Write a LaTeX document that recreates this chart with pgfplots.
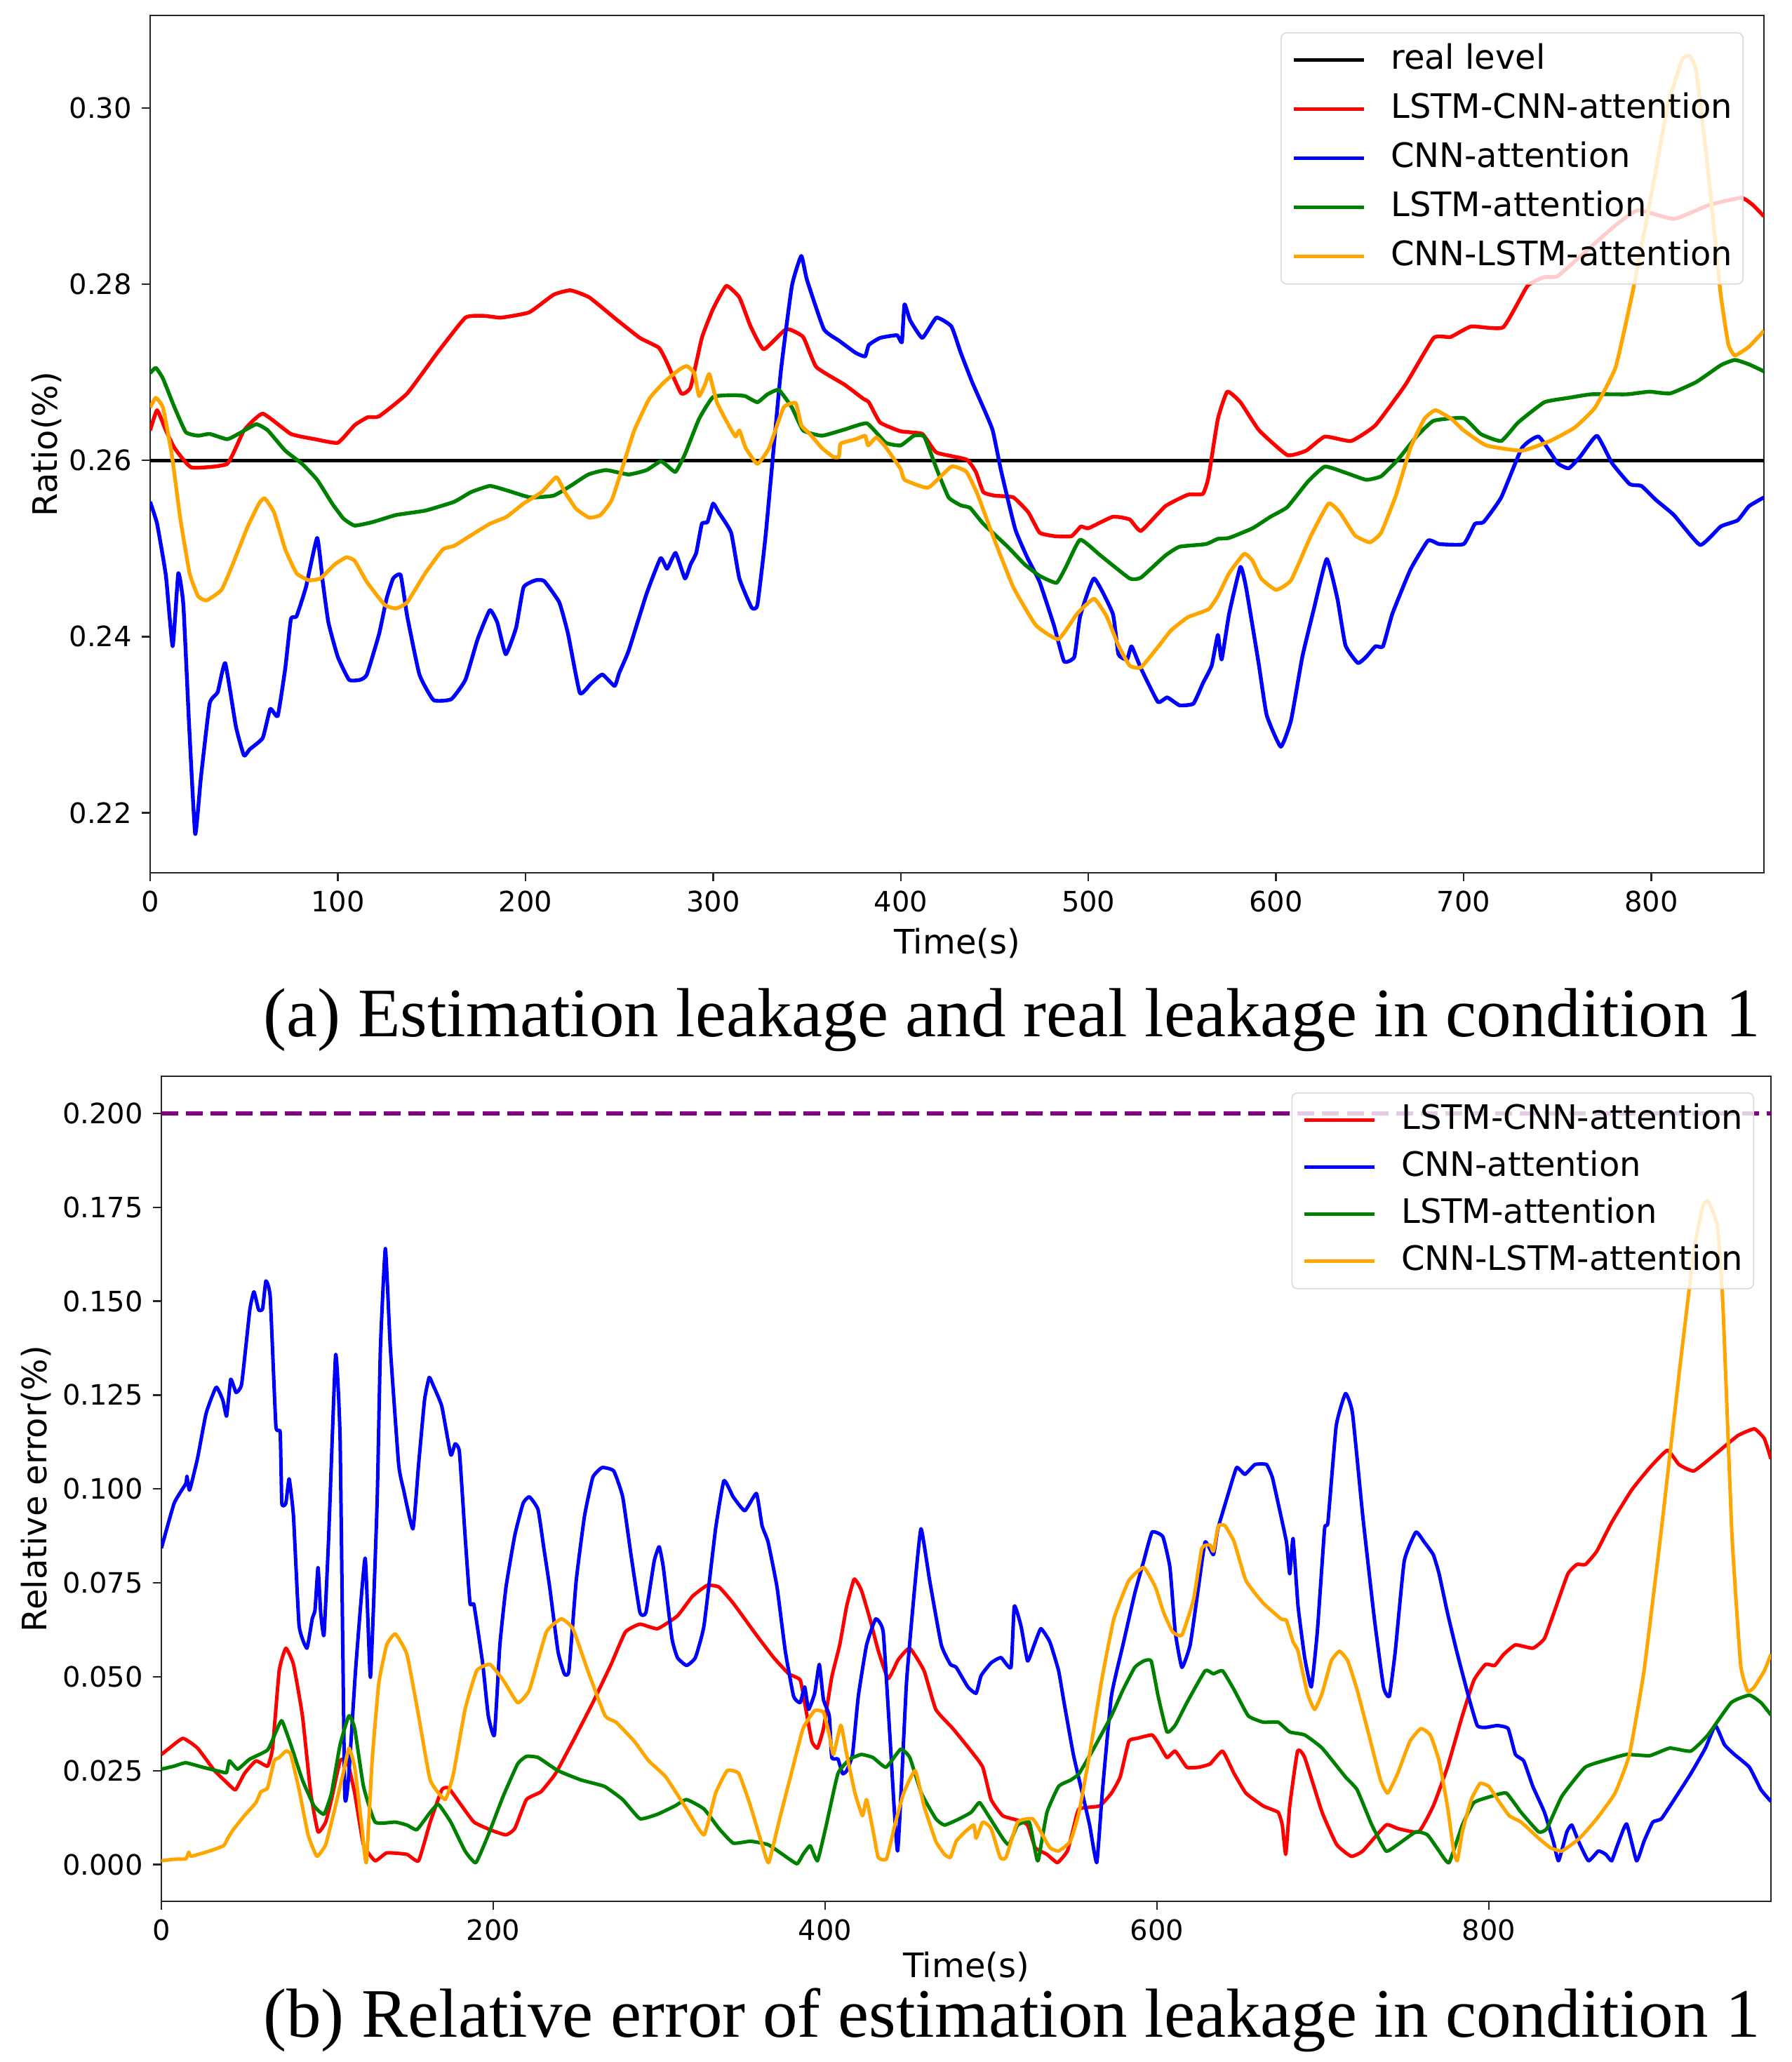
\documentclass[border=0pt]{standalone}
\usepackage{fontspec}
\setmainfont{DejaVu Sans}
\newfontfamily\capfont{Liberation Serif}
\usepackage{pgfplots}
\pgfplotsset{compat=1.18}
\definecolor{mplgreen}{HTML}{008000}
\definecolor{mplorange}{HTML}{FFA500}
\definecolor{mplpurple}{HTML}{800080}
\pgfplotsset{
  common/.style={
    scale only axis, clip=true,
    axis line style={black!85, line width=0.6pt},
    tick style={black!85, line width=0.6pt},
    major tick length=3pt, tick align=outside, tick pos=left,
    ticklabel style={font=\fontsize{10}{12}\selectfont},
    /pgf/number format/assume math mode=true,
    label style={font=\fontsize{12}{14}\selectfont},
    scaled y ticks=false,
    legend cell align=left,
    legend image code/.code={\draw[##1] (0pt,0pt) -- (25pt,0pt); \path (34pt,0pt);},
  },
  dline/.style={line width=1.35pt, line join=round, smooth, tension=0.25},
  eline/.style={line width=1.25pt, line join=round, smooth, tension=0.25},
}
\begin{document}
\begin{tikzpicture}
\path[use as bounding box] (0,0) rectangle (638.5pt,734.75pt);
% ---------------- top axis
\begin{axis}[common,
  at={(53.5pt,423.75pt)}, anchor=south west,
  width=575pt, height=305.5pt,
  xmin=0, xmax=860, ymin=0.2132, ymax=0.3105,
  xtick={0,100,200,300,400,500,600,700,800},
  ytick={0.22,0.24,0.26,0.28,0.30},
  yticklabel style={/pgf/number format/.cd, fixed, fixed zerofill, precision=2},
  xlabel={Time(s)}, ylabel={Ratio(\%)},
  xlabel style={at={(axis description cs:0.5,-0.0818)}, anchor=center},
  ylabel style={at={(axis description cs:-0.0643,0.5)}, anchor=center},
  legend style={at={(1,1)}, anchor=north east, xshift=-7.25pt, yshift=-6pt,
    draw=black!15, rounded corners=2pt, fill=white, fill opacity=0.8, draw opacity=1, text opacity=1,
    font=\fontsize{12}{14}\selectfont, inner xsep=3.75pt, inner ysep=4pt, row sep=6pt,
    nodes={inner sep=0pt, text height=9pt, text depth=2.5pt}},
]
\addplot[black, line width=1.25pt] coordinates {(0,0.26)(860,0.26)};
\addlegendentry{real level}
\addplot[red, dline] coordinates {
(0,0.2634)(3.7,0.2657)(8.4,0.2634)(13,0.2614)(22,0.2592)(41,0.2596)(50,0.2634)(60,0.2653)(75,0.2630)(88,0.2624)(100,0.2620)(109,0.2640)(116,0.2649)(122,0.2650)(137,0.2676)(153,0.2722)(168,0.2762)(178,0.2764)(187,0.2762)(202,0.2768)(215,0.2788)(224,0.2793)(234,0.2785)(249,0.2759)(261,0.2739)(271,0.2728)(275,0.2713)(283,0.2676)(288,0.2683)(294,0.2739)(300,0.2772)(307,0.2798)(314,0.2785)(320,0.2752)(327,0.2726)(339,0.2749)(348,0.2740)(355,0.2706)(370,0.2686)(380,0.2670)(383,0.2666)(389,0.2643)(400,0.2633)(411.5,0.2630)(419,0.2609)(435,0.2601)(440,0.2587)(444,0.2564)(450,0.2560)(460,0.2558)(468,0.2541)(474,0.2518)(482,0.2514)(491,0.2514)(496,0.2525)(500,0.2523)(513,0.2536)(522,0.2533)(528,0.2520)(541,0.2548)(553,0.2561)(561,0.2562)(564,0.2581)(569,0.2647)(574,0.2678)(581,0.2666)(591,0.2634)(606,0.2606)(616,0.2611)(626,0.2627)(640,0.2622)(653,0.2640)(669,0.2686)(684,0.2739)(693,0.2740)(704,0.2752)(721,0.2751)(734,0.2798)(743,0.2808)(750,0.2809)(765,0.2837)(781,0.2867)(793,0.2884)(812,0.2874)(831,0.2890)(848,0.2898)(854,0.2890)(860,0.2877)};
\addlegendentry{LSTM-CNN-attention}
\addplot[blue, dline] coordinates {
(0,0.2553)(3.7,0.2528)(8.4,0.2469)(12,0.2389)(15,0.2472)(17.7,0.2436)(20.8,0.2298)(24,0.2176)(27,0.2239)(31.7,0.2324)(36,0.2337)(40,0.2370)(45.7,0.2298)(50,0.2265)(53,0.2272)(60,0.2285)(64,0.2318)(68,0.2310)(72,0.2364)(75,0.2420)(78,0.2423)(83,0.2456)(89,0.2512)(92,0.2462)(95,0.2416)(100,0.2377)(106,0.2351)(112,0.2351)(115.5,0.2357)(122,0.2403)(126,0.2443)(129.5,0.2466)(133.5,0.2470)(137,0.2423)(143.5,0.2357)(151,0.2328)(160.5,0.2329)(168,0.2351)(174.5,0.2397)(181,0.2430)(185,0.2416)(189.5,0.2380)(195,0.2410)(199,0.2456)(205.5,0.2464)(210,0.2463)(218,0.2439)(222.7,0.2403)(229,0.2336)(235,0.2347)(241,0.2357)(247.5,0.2344)(250,0.2359)(255,0.2384)(264.6,0.2449)(272,0.2489)(275.5,0.2477)(280,0.2495)(285,0.2466)(288,0.2482)(291,0.2495)(294,0.2528)(297,0.2530)(300,0.2551)(303,0.2541)(309.6,0.2518)(314,0.2466)(320.5,0.2433)(323.6,0.2436)(328,0.2515)(336,0.2699)(342,0.2798)(347,0.2832)(350,0.2805)(359,0.2749)(367,0.2736)(376,0.2722)(381,0.2718)(383,0.2731)(389,0.2739)(398,0.2742)(400.6,0.2734)(402,0.2777)(405,0.2759)(411.5,0.2739)(419,0.2762)(427,0.2752)(432,0.2722)(438,0.2689)(444,0.2660)(449,0.2634)(453.6,0.2587)(461,0.2522)(467.6,0.2489)(474,0.2462)(481.6,0.2413)(487,0.2372)(492.5,0.2377)(495.6,0.2423)(503,0.2466)(513,0.2426)(516,0.2380)(520.6,0.2374)(523,0.2389)(528,0.2364)(537,0.2326)(542,0.2331)(548.6,0.2322)(556,0.2324)(561,0.2347)(565.7,0.2367)(569,0.2402)(571,0.2374)(575,0.2426)(581,0.2479)(584,0.2456)(590.7,0.2370)(595,0.2311)(602.5,0.2275)(608,0.2305)(614,0.2377)(620,0.2430)(627,0.2488)(632.7,0.2443)(637,0.2390)(643.6,0.2370)(648,0.2377)(653,0.2389)(657,0.2389)(662,0.2426)(671.6,0.2476)(681,0.2509)(687,0.2505)(700,0.2505)(706,0.2528)(710.6,0.2530)(720,0.2558)(731,0.2614)(740,0.2627)(750,0.2597)(756,0.2591)(762,0.2604)(771,0.2628)(779,0.2597)(788.5,0.2573)(794.7,0.2571)(802.5,0.2555)(812,0.2538)(826,0.2504)(837,0.2525)(846,0.2532)(852,0.2548)(860,0.2558)};
\addlegendentry{CNN-attention}
\addplot[mplgreen, dline] coordinates {
(0,0.2699)(3,0.2705)(6.8,0.2693)(13,0.2660)(19,0.2632)(25.5,0.2628)(31.7,0.2630)(41,0.2624)(47,0.2630)(56.5,0.2641)(62.7,0.2634)(72,0.2611)(81,0.2596)(89,0.2578)(97,0.2551)(103,0.2534)(109,0.2526)(118.6,0.2530)(131,0.2538)(146.6,0.2543)(162,0.2553)(171,0.2564)(181,0.2571)(190,0.2566)(202.5,0.2558)(215,0.2560)(224,0.2571)(233.5,0.2584)(243,0.2589)(255,0.2584)(264.6,0.2589)(272,0.2599)(275.5,0.2594)(280,0.2587)(285,0.2607)(292.5,0.2647)(300,0.2672)(311,0.2674)(317,0.2673)(323.6,0.2666)(329,0.2675)(335,0.2680)(342,0.2660)(348,0.2634)(358,0.2628)(370,0.2635)(382,0.2642)(392,0.2620)(400,0.2617)(407,0.2628)(412.5,0.2627)(419,0.2591)(425.5,0.2558)(432,0.2549)(437,0.2546)(444,0.2528)(457,0.2502)(466,0.2482)(474,0.2469)(483,0.2461)(488,0.2479)(495.6,0.2510)(506.5,0.2492)(522,0.2466)(528,0.2467)(541,0.2492)(548.6,0.2502)(562.6,0.2505)(569,0.2511)(575,0.2512)(587.5,0.2523)(597,0.2536)(606,0.2547)(617,0.2576)(626,0.2593)(637,0.2586)(648,0.2578)(656,0.2582)(665,0.2601)(674.8,0.2627)(684,0.2645)(700,0.2648)(709,0.2630)(720,0.2622)(729,0.2643)(743,0.2666)(756,0.2671)(768,0.2675)(787,0.2675)(799,0.2678)(810,0.2676)(824,0.2689)(837,0.2708)(844.5,0.2714)(852,0.2709)(860,0.2701)};
\addlegendentry{LSTM-attention}
\addplot[mplorange, dline] coordinates {
(0,0.2660)(3,0.2671)(6.8,0.2660)(11.5,0.2607)(16,0.2535)(21,0.2472)(25.5,0.2446)(30,0.2441)(38,0.2453)(44,0.2482)(52,0.2525)(58,0.2551)(61,0.2557)(66,0.2541)(72,0.2499)(78,0.2472)(84.5,0.2464)(90.7,0.2466)(98.4,0.2482)(104.6,0.2490)(109,0.2486)(115.5,0.2462)(125,0.2436)(131,0.2432)(137,0.2439)(146.6,0.2472)(156,0.2499)(162,0.2503)(171,0.2515)(181,0.2528)(190,0.2536)(199,0.2551)(208.7,0.2564)(216.5,0.2581)(221,0.2564)(227,0.2545)(234,0.2535)(240,0.2538)(246,0.2555)(252,0.2594)(258,0.2634)(266,0.2670)(274,0.2689)(282,0.2703)(286,0.2707)(290,0.2699)(292.5,0.2673)(295.7,0.2686)(298,0.2698)(302,0.2666)(308,0.2641)(312,0.2627)(314,0.2634)(317.4,0.2614)(323.6,0.2596)(329.8,0.2614)(337.6,0.2660)(344,0.2665)(347,0.2640)(351.5,0.2630)(358,0.2614)(364,0.2604)(367,0.2604)(368,0.2619)(376,0.2624)(381,0.2628)(382.6,0.2617)(387,0.2626)(392,0.2615)(400,0.2590)(402,0.2578)(414.6,0.2569)(427,0.2593)(435,0.2587)(441,0.2561)(449,0.2515)(460,0.2456)(472,0.2413)(484,0.2397)(494,0.2426)(503,0.2443)(509.7,0.2423)(516,0.2390)(522,0.2367)(528,0.2365)(537.7,0.2390)(544,0.2407)(553,0.2422)(564,0.2431)(569,0.2446)(575,0.2472)(583,0.2494)(587.5,0.2486)(592,0.2466)(600,0.2453)(608,0.2464)(618.7,0.2515)(628,0.2551)(634,0.2541)(642,0.2515)(650,0.2507)(656,0.2518)(664,0.2561)(671.6,0.2614)(679,0.2647)(685,0.2657)(693.5,0.2647)(700,0.2634)(712,0.2617)(731,0.2611)(746,0.2622)(759,0.2637)(770,0.2660)(781,0.2706)(790,0.2791)(799.6,0.2897)(808.7,0.3002)(816.5,0.3055)(820.5,0.3059)(824,0.3041)(830.5,0.2923)(836.8,0.2791)(841,0.2732)(844.5,0.2719)(852,0.2729)(860,0.2747)};
\addlegendentry{CNN-LSTM-attention}
\end{axis}
% ---------------- bottom axis
\begin{axis}[common,
  at={(57.5pt,57.25pt)}, anchor=south west,
  width=573.5pt, height=294pt,
  xmin=0, xmax=970, ymin=-0.0098, ymax=0.2099,
  xtick={0,200,400,600,800},
  ytick={0,0.025,0.05,0.075,0.1,0.125,0.15,0.175,0.2},
  yticklabel style={/pgf/number format/.cd, fixed, fixed zerofill, precision=3},
  xlabel={Time(s)}, ylabel={Relative error(\%)},
  xlabel style={at={(axis description cs:0.5,-0.0791)}, anchor=center},
  ylabel style={at={(axis description cs:-0.078,0.5)}, anchor=center},
  legend style={at={(1,1)}, anchor=north east, xshift=-6pt, yshift=-5.75pt,
    draw=black!15, rounded corners=2pt, fill=white, fill opacity=0.8, draw opacity=1, text opacity=1,
    font=\fontsize{12}{14}\selectfont, inner xsep=3.75pt, inner ysep=4pt, row sep=5.25pt,
    nodes={inner sep=0pt, text height=9pt, text depth=2.5pt}},
]
\addplot[mplpurple, line width=1.3pt, dash pattern=on 6pt off 2.8pt, forget plot] coordinates {(0,0.2)(970,0.2)};
\addplot[red, eline] coordinates {
(0,0.0293)(4,0.0307)(13,0.0336)(21.8,0.0310)(32,0.0250)(39,0.0220)(44.6,0.0199)(50,0.0242)(57,0.0276)(64,0.0262)(67,0.0310)(71,0.0516)(75,0.0576)(79.6,0.0533)(85,0.0396)(90,0.0190)(94.4,0.0087)(99,0.0113)(102.5,0.0173)(107.7,0.0276)(112,0.0276)(116.5,0.0190)(121.8,0.0053)(128.8,0.0010)(135.8,0.0031)(148,0.0027)(155,0.0010)(162,0.0113)(169,0.0199)(173,0.0204)(179.6,0.0165)(188.4,0.0113)(199,0.0091)(207.7,0.0079)(213,0.0096)(220,0.0173)(228.8,0.0194)(237.5,0.0242)(248,0.0328)(260,0.0431)(271,0.0533)(279.6,0.0619)(288.4,0.0640)(299,0.0628)(311,0.0662)(320,0.0714)(328.8,0.0743)(336,0.0739)(344.6,0.0696)(358.6,0.0611)(369,0.0551)(378,0.0508)(385,0.0491)(388.4,0.0413)(392,0.0328)(395.4,0.0310)(399,0.0362)(404,0.0499)(408.8,0.0585)(413,0.0688)(417.5,0.0760)(421.8,0.0731)(427,0.0654)(432,0.0570)(438,0.0495)(444,0.0545)(451,0.0576)(459.6,0.0516)(466.7,0.0413)(477,0.0362)(488,0.0302)(495,0.0259)(500,0.0173)(507,0.0130)(516,0.0118)(522,0.0105)(526.6,0.0045)(533.7,0.0027)(540,0.0005)(546,0.0036)(549.6,0.0096)(553,0.0148)(565.4,0.0156)(572.5,0.0190)(577.8,0.0233)(583,0.0328)(588,0.0336)(597,0.0345)(600.7,0.0324)(606,0.0285)(611,0.0302)(618,0.0259)(625,0.0259)(632,0.0268)(639.5,0.0302)(646.5,0.0242)(653.6,0.0190)(664,0.0156)(673,0.0139)(675.5,0.0105)(677.6,0.0027)(680,0.0156)(684.7,0.0302)(689,0.0285)(699.5,0.0139)(708.3,0.0053)(717,0.0022)(724,0.0036)(738,0.0105)(745,0.0096)(757.7,0.0087)(766.5,0.0156)(775,0.0259)(784,0.0396)(791,0.0491)(798,0.0533)(803.5,0.0530)(808.8,0.0559)(816,0.0585)(826.5,0.0576)(833.5,0.0602)(840.6,0.0688)(847.6,0.0774)(853,0.0799)(858.2,0.0799)(865,0.0834)(874,0.0911)(886,0.0997)(897,0.1057)(907.6,0.1103)(914.6,0.1065)(923.5,0.1048)(936,0.1091)(950,0.1142)(960,0.1160)(966,0.1134)(970,0.1080)};
\addlegendentry{LSTM-CNN-attention}
\addplot[blue, eline] coordinates {
(0,0.0842)(7.7,0.0962)(14.7,0.1014)(15.4,0.1034)(17,0.0997)(21.8,0.1082)(27,0.1202)(33,0.1271)(37,0.1237)(39.3,0.1194)(41.8,0.1292)(45,0.1257)(48.4,0.1280)(53.3,0.1477)(55.8,0.1525)(58.6,0.1477)(61,0.1480)(63,0.1554)(65.6,0.1511)(69,0.1168)(71.6,0.1151)(72.6,0.0962)(75,0.0962)(77,0.1027)(79.6,0.0928)(83,0.0636)(87.7,0.0576)(90.9,0.0654)(92.6,0.0678)(94.4,0.0791)(96,0.0671)(98,0.0611)(100.7,0.0859)(105,0.1357)(107.7,0.1134)(110.5,0.0190)(113,0.0242)(117,0.0516)(122.8,0.0816)(126,0.0499)(130,0.0962)(132,0.1374)(135,0.1640)(138,0.1374)(143,0.1065)(146,0.0997)(151.6,0.0894)(155,0.1065)(158.6,0.1237)(161.4,0.1297)(164,0.1274)(169,0.1220)(174.4,0.1091)(177,0.1120)(179.6,0.1099)(183,0.0877)(186,0.0696)(188.4,0.0691)(193.7,0.0533)(197,0.0396)(200.7,0.0345)(204,0.0585)(207.7,0.0739)(213,0.0877)(218,0.0962)(221.8,0.0979)(227,0.0945)(230.5,0.0842)(234,0.0739)(239,0.0568)(242.8,0.0508)(245.6,0.0516)(250,0.0756)(255,0.0928)(260,0.1031)(265.6,0.1057)(272.6,0.1048)(278,0.0979)(283,0.0825)(288.4,0.0671)(292,0.0671)(297,0.0808)(300,0.0846)(302.5,0.0791)(307.7,0.0602)(311,0.0551)(316.5,0.0530)(321.8,0.0551)(327,0.0636)(334,0.0894)(339,0.1022)(344.6,0.0979)(351.6,0.0942)(358.6,0.0988)(362,0.0902)(365.6,0.0859)(371,0.0739)(376,0.0568)(381,0.0448)(385,0.0431)(387.7,0.0473)(390,0.0413)(393.7,0.0456)(396.5,0.0533)(399,0.0439)(402.5,0.0396)(404,0.0285)(407.7,0.0281)(410.5,0.0242)(413,0.0250)(416.5,0.0293)(420,0.0448)(425,0.0585)(430.5,0.0654)(435,0.0619)(439,0.0345)(443.7,0.0036)(449,0.0482)(454,0.0739)(457.8,0.0894)(463,0.0756)(470,0.0585)(475.5,0.0533)(479,0.0525)(486,0.0473)(491,0.0456)(494,0.0503)(500,0.0537)(506,0.0551)(512,0.0525)(514,0.0688)(518,0.0636)(522,0.0542)(526,0.0585)(530,0.0628)(535.4,0.0593)(540.7,0.0516)(544,0.0431)(549.6,0.0293)(555,0.0190)(559.4,0.0105)(563.7,0.0005)(567,0.0190)(572.5,0.0448)(579.5,0.0585)(586.6,0.0722)(592,0.0808)(597,0.0885)(603.5,0.0873)(607.8,0.0791)(611,0.0619)(615,0.0525)(620,0.0585)(625,0.0739)(629,0.0859)(634,0.0825)(636.7,0.0894)(643,0.0988)(648,0.1057)(653,0.1039)(659,0.1065)(666,0.1065)(669.5,0.1031)(673,0.0962)(678,0.0859)(680,0.0774)(682,0.0868)(685,0.0688)(689,0.0551)(693,0.0473)(696.6,0.0619)(701,0.0894)(703,0.0911)(708,0.1168)(713.6,0.1254)(717.8,0.1202)(724,0.0928)(731,0.0654)(736.5,0.0473)(740,0.0448)(743.6,0.0568)(749,0.0808)(756,0.0885)(761,0.0859)(766.5,0.0825)(770,0.0774)(775,0.0671)(780.6,0.0568)(787.7,0.0448)(793,0.0370)(798,0.0365)(805,0.0370)(811.6,0.0362)(816,0.0293)(821,0.0276)(826.5,0.0208)(833.5,0.0139)(838.8,0.0062)(842,0.0010)(847,0.0087)(850,0.0105)(854,0.0062)(860,0.0010)(866,0.0036)(870.5,0.0027)(874,0.0010)(877.6,0.0053)(883,0.0108)(889,0.0010)(893.5,0.0062)(898.8,0.0113)(904,0.0122)(913,0.0182)(921.7,0.0242)(930.5,0.0310)(936.5,0.0370)(942,0.0319)(948,0.0293)(957,0.0259)(964,0.0199)(970,0.0168)};
\addlegendentry{CNN-attention}
\addplot[mplgreen, eline] coordinates {
(0,0.0254)(7.7,0.0262)(14.7,0.0271)(25,0.0259)(36,0.0247)(39.3,0.0245)(41,0.0276)(46,0.0254)(53,0.0280)(64,0.0305)(69,0.0353)(72.6,0.0383)(78,0.0319)(85,0.0225)(92,0.0156)(98,0.0134)(102.5,0.0190)(107.7,0.0319)(113,0.0396)(116.5,0.0362)(121.8,0.0208)(128.8,0.0113)(141,0.0113)(148,0.0105)(154,0.0093)(162,0.0139)(167,0.0160)(174.4,0.0113)(183,0.0036)(189.5,0.0005)(197,0.0079)(206,0.0182)(214.7,0.0268)(220,0.0288)(227,0.0285)(239,0.0250)(253,0.0225)(267,0.0208)(278,0.0173)(288.4,0.0122)(299,0.0134)(309.5,0.0156)(316.5,0.0173)(327,0.0148)(336,0.0096)(344.6,0.0057)(355,0.0062)(365.6,0.0053)(374.4,0.0027)(383,0.0002)(386.7,0.0027)(391,0.0050)(395.4,0.0010)(400.7,0.0105)(407.7,0.0242)(414.7,0.0280)(421.8,0.0293)(428.8,0.0285)(436.7,0.0259)(445.5,0.0307)(451,0.0285)(458,0.0190)(466.7,0.0122)(472,0.0105)(481,0.0122)(488,0.0139)(493,0.0165)(498.4,0.0130)(507,0.0070)(510.8,0.0053)(516,0.0105)(523,0.0113)(526.6,0.0036)(528.4,0.0010)(533.7,0.0139)(540.7,0.0208)(548,0.0225)(553,0.0242)(562,0.0310)(572.5,0.0396)(579.5,0.0465)(586.6,0.0525)(592,0.0542)(596.5,0.0542)(600.7,0.0448)(606,0.0353)(611,0.0371)(618,0.0431)(629,0.0516)(634,0.0508)(639.5,0.0516)(646.5,0.0465)(655,0.0396)(664,0.0379)(673,0.0379)(680,0.0353)(689,0.0345)(699.5,0.0310)(713.6,0.0233)(720.6,0.0199)(729.5,0.0105)(738,0.0036)(745,0.0053)(756,0.0087)(763,0.0079)(770,0.0036)(776,0.0005)(784,0.0105)(791,0.0165)(801.8,0.0182)(810.6,0.0190)(819.4,0.0139)(830,0.0087)(835,0.0096)(844,0.0182)(858,0.0259)(872,0.0280)(883,0.0293)(897,0.0290)(909,0.0310)(921.7,0.0302)(932,0.0345)(946,0.0431)(957,0.0451)(964,0.0431)(970,0.0398)};
\addlegendentry{LSTM-attention}
\addplot[mplorange, eline] coordinates {
(0,0.0010)(7.7,0.0014)(14.7,0.0015)(16.5,0.0033)(18,0.0022)(29,0.0036)(37.5,0.0050)(40,0.0070)(43,0.0091)(50,0.0130)(57,0.0165)(60,0.0194)(64,0.0204)(68,0.0276)(71,0.0285)(75,0.0302)(78,0.0293)(83,0.0199)(88.4,0.0079)(93.7,0.0022)(99,0.0053)(104,0.0139)(109.5,0.0242)(113,0.0310)(116.5,0.0259)(120.7,0.0105)(123.5,0.0005)(127,0.0276)(131,0.0482)(135.8,0.0585)(141,0.0614)(148,0.0559)(155,0.0396)(162,0.0225)(171,0.0173)(176,0.0242)(183,0.0413)(190,0.0516)(198,0.0533)(206,0.0491)(214.7,0.0431)(221.8,0.0465)(232,0.0619)(241,0.0654)(248,0.0628)(257,0.0516)(267.4,0.0396)(274,0.0379)(285,0.0328)(293.7,0.0276)(304,0.0233)(316.5,0.0148)(327,0.0079)(334,0.0190)(341,0.0250)(348,0.0242)(355,0.0156)(362,0.0053)(366,0.0005)(372.6,0.0122)(379.6,0.0242)(386.7,0.0362)(393.7,0.0410)(399,0.0405)(402.5,0.0345)(405,0.0293)(409.5,0.0371)(413,0.0293)(418,0.0190)(422.5,0.0130)(425,0.0173)(429,0.0087)(432,0.0019)(437,0.0015)(442,0.0105)(447.3,0.0190)(454.3,0.0250)(459.6,0.0156)(466.7,0.0062)(472,0.0027)(475.5,0.0019)(479,0.0062)(484.3,0.0087)(489.6,0.0105)(491,0.0070)(495,0.0113)(500,0.0096)(505.5,0.0019)(509,0.0019)(516,0.0113)(525,0.0122)(530,0.0087)(535.4,0.0045)(540.7,0.0036)(547.8,0.0062)(553,0.0139)(560,0.0310)(567,0.0499)(574,0.0654)(583,0.0756)(592,0.0791)(599,0.0739)(604,0.0671)(609.5,0.0619)(615,0.0611)(622,0.0705)(627,0.0842)(632,0.0851)(634,0.0834)(637,0.0902)(641,0.0902)(646.5,0.0859)(653.6,0.0756)(664,0.0696)(674.8,0.0654)(678,0.0650)(682,0.0593)(685,0.0568)(690.6,0.0456)(695,0.0413)(699.5,0.0456)(705,0.0542)(710,0.0568)(715,0.0542)(720.6,0.0465)(727.7,0.0345)(734.7,0.0225)(739,0.0190)(745,0.0242)(752.4,0.0328)(759,0.0362)(764.7,0.0345)(770,0.0276)(775,0.0156)(778.8,0.0036)(781,0.0010)(784,0.0087)(789.4,0.0173)(794.7,0.0216)(800,0.0208)(805.3,0.0173)(812.3,0.0130)(819.4,0.0113)(830,0.0070)(837,0.0045)(844,0.0036)(854.7,0.0070)(865,0.0122)(876,0.0190)(884.7,0.0293)(893.5,0.0516)(904,0.0894)(914.6,0.1305)(923.5,0.1631)(928.8,0.1751)(932,0.1768)(937.7,0.1700)(941,0.1494)(946.5,0.0877)(951.7,0.0533)(956,0.0461)(960,0.0473)(966,0.0516)(970,0.0560)};
\addlegendentry{CNN-LSTM-attention}
\end{axis}
\node[anchor=base, font=\capfont\fontsize{24.75}{28}\selectfont] at (360.5pt,365.25pt) {(a) Estimation leakage and real leakage in condition 1};
\node[anchor=base, font=\capfont\fontsize{24.75}{28}\selectfont] at (360.5pt,9pt) {(b) Relative error of estimation leakage in condition 1};
\end{tikzpicture}
\end{document}
